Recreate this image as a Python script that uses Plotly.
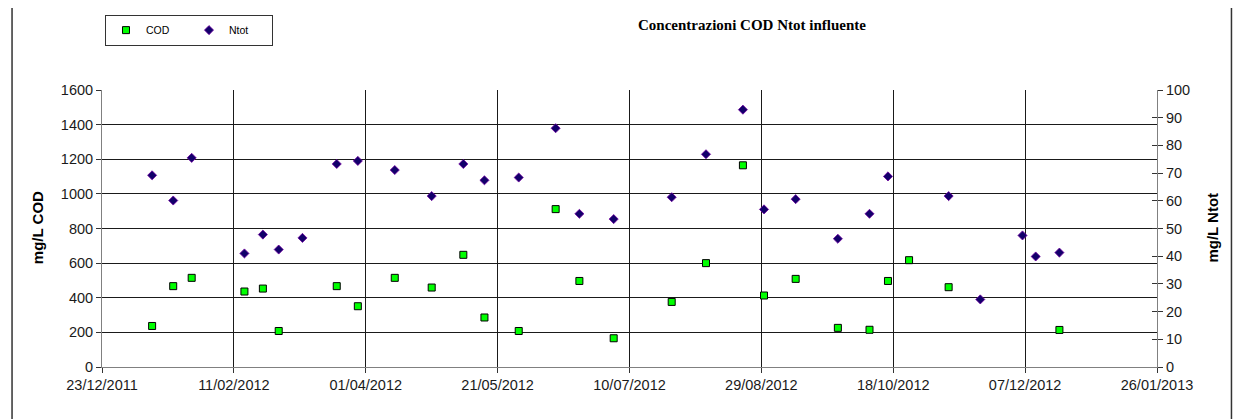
import plotly.graph_objects as go

# ---- data ----
cod_dates = ["2012-01-11", "2012-01-19", "2012-01-26", "2012-02-15", "2012-02-22", "2012-02-28",
             "2012-03-21", "2012-03-29", "2012-04-12", "2012-04-26", "2012-05-08", "2012-05-16",
             "2012-05-29", "2012-06-12", "2012-06-21", "2012-07-04", "2012-07-26", "2012-08-08",
             "2012-08-22", "2012-08-30", "2012-09-11", "2012-09-27", "2012-10-09", "2012-10-16",
             "2012-10-24", "2012-11-08", "2012-12-20"]
cod_values = [237, 467, 515, 436, 453, 208,
              467, 351, 515, 459, 648, 286,
              208, 912, 497, 166, 376, 600,
              1165, 413, 509, 226, 215, 497,
              617, 461, 214]

ntot_dates = ["2012-01-11", "2012-01-19", "2012-01-26", "2012-02-15", "2012-02-22", "2012-02-28",
              "2012-03-08", "2012-03-21", "2012-03-29", "2012-04-12", "2012-04-26", "2012-05-08",
              "2012-05-16", "2012-05-29", "2012-06-12", "2012-06-21", "2012-07-04", "2012-07-26",
              "2012-08-08", "2012-08-22", "2012-08-30", "2012-09-11", "2012-09-27", "2012-10-09",
              "2012-10-16", "2012-11-08", "2012-11-20", "2012-12-06", "2012-12-11", "2012-12-20"]
ntot_values = [69.2, 60.1, 75.5, 41.0, 47.8, 42.4,
               46.6, 73.3, 74.4, 71.1, 61.7, 73.3,
               67.4, 68.4, 86.2, 55.3, 53.4, 61.3,
               76.8, 92.9, 56.9, 60.6, 46.3, 55.3,
               68.8, 61.7, 24.4, 47.5, 39.9, 41.3]

x_range = ["2011-12-23", "2013-01-26"]
x_tick_step_days = 50
cod_range = [0, 1600]
ntot_range = [0, 100]

title_text = "Concentrazioni COD Ntot influente"
left_title = "mg/L COD"
right_title = "mg/L Ntot"

# ---- figure geometry (page pixels; the page body adds an 8px margin) ----
OFF = 8
PAGE_W, PAGE_H = 1243, 419
W, H = PAGE_W - OFF, PAGE_H - OFF
plot_left, plot_right, plot_top, plot_bottom = 102, 1157.5, 90, 366.7
L = plot_left - OFF
R = W - (plot_right - OFF)
T = plot_top - OFF
B = H - (plot_bottom - OFF)
pw = W - L - R
ph = H - T - B


def px_to_paper_x(px):
    return (px - plot_left) / pw


def px_to_paper_y(py):
    return (plot_bottom - py) / ph


tick_font = dict(family="Liberation Sans, Arial", size=14.5, color="#1a1a1a")

fig = go.Figure()
fig.add_trace(go.Scatter(
    x=cod_dates, y=cod_values, mode="markers", name="COD", yaxis="y",
    marker=dict(symbol="square", size=7, color="#00ff00", line=dict(color="#000000", width=1)),
))
fig.add_trace(go.Scatter(
    x=ntot_dates, y=ntot_values, mode="markers", name="Ntot", yaxis="y2",
    marker=dict(symbol="diamond", size=7, color="#12006a", line=dict(color="#7000a0", width=0.8)),
))

fig.update_layout(
    width=W, height=H,
    margin=dict(l=L, r=R, t=T, b=B, pad=0, autoexpand=False),
    paper_bgcolor="white", plot_bgcolor="white",
    showlegend=True,
    legend=dict(
        orientation="h", x=px_to_paper_x(105), y=px_to_paper_y(14.7),
        xanchor="left", yanchor="top",
        bordercolor="#333333", borderwidth=1, bgcolor="white",
        font=dict(family="Liberation Sans, Arial", size=10.5, color="#000"),
        entrywidth=38, entrywidthmode="pixels",
        tracegroupgap=0,
    ),
    xaxis=dict(
        type="date", range=x_range,
        tick0=x_range[0], dtick=x_tick_step_days * 86400000,
        tickformat="%d/%m/%Y",
        showgrid=True, gridcolor="#1a1a1a", gridwidth=1,
        showline=True, linecolor="#808080", linewidth=1,
        ticks="outside", ticklen=5, tickcolor="#333",
        tickfont=tick_font, zeroline=False,
    ),
    yaxis=dict(
        range=cod_range, dtick=200,
        showgrid=True, gridcolor="#1a1a1a", gridwidth=1,
        showline=True, linecolor="#808080", linewidth=1,
        ticks="outside", ticklen=5, tickcolor="#333",
        tickfont=tick_font, zeroline=False,
    ),
    yaxis2=dict(
        range=ntot_range, dtick=10, overlaying="y", side="right",
        showgrid=False, showline=True, linecolor="#808080", linewidth=1,
        ticks="outside", ticklen=5, tickcolor="#333",
        tickfont=tick_font, zeroline=False,
    ),
    yaxis3=dict(
        range=ntot_range, dtick=10, overlaying="y", side="right",
        showgrid=False, showline=False, showticklabels=False,
        ticks="inside", ticklen=5, tickcolor="#333", zeroline=False,
    ),
    shapes=[dict(
        type="rect", xref="paper", yref="paper",
        x0=px_to_paper_x(12), x1=px_to_paper_x(1232),
        y0=px_to_paper_y(440), y1=px_to_paper_y(6),
        line=dict(color="#333333", width=1.5), fillcolor="rgba(0,0,0,0)", layer="below",
    )],
    annotations=[
        dict(text="<b>" + title_text + "</b>", xref="paper", yref="paper",
             x=px_to_paper_x(752), y=px_to_paper_y(25), showarrow=False,
             xanchor="center", yanchor="middle",
             font=dict(family="Liberation Serif, Times New Roman", size=15, color="#000")),
        dict(text="<b>" + left_title + "</b>", xref="paper", yref="paper",
             x=px_to_paper_x(37), y=px_to_paper_y(228), showarrow=False, textangle=-90,
             xanchor="center", yanchor="middle",
             font=dict(family="Liberation Sans, Arial", size=15, color="#000")),
        dict(text="<b>" + right_title + "</b>", xref="paper", yref="paper",
             x=px_to_paper_x(1213), y=px_to_paper_y(227), showarrow=False, textangle=-90,
             xanchor="center", yanchor="middle",
             font=dict(family="Liberation Sans, Arial", size=15, color="#000")),
    ],
)

# invisible trace to activate yaxis3 tick marks
fig.add_trace(go.Scatter(x=[x_range[0]], y=[None], yaxis="y3", showlegend=False,
                         hoverinfo="skip", mode="markers"))

fig.write_html("out.html")
